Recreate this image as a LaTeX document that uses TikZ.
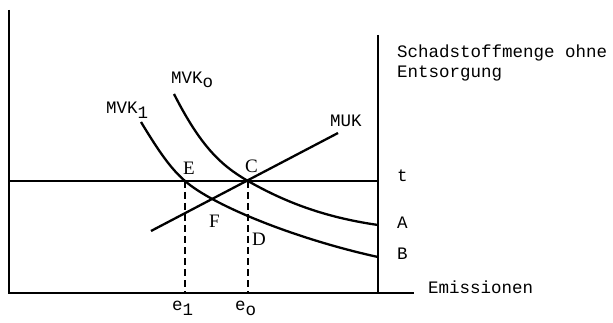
\documentclass[tikz,border=0pt]{standalone}
\usepackage{fontspec}
\setmainfont{Liberation Serif}
\newfontfamily\typew{Liberation Mono}
\usetikzlibrary{positioning}

\begin{document}
\begin{tikzpicture}[
    x=1pt, y=-1pt,
    axis/.style={line width=2pt},
    curve/.style={line width=2.3pt},
    level/.style={line width=1.7pt},
    guide/.style={line width=1.7pt, dash pattern=on 7pt off 4pt},
    lab/.style={font=\typew\fontsize{17.5}{20}\selectfont, inner sep=0pt, anchor=base west},
    pt/.style={font=\fontsize{19}{22}\selectfont, inner sep=0pt, anchor=base west}
]
\useasboundingbox (0,0) rectangle (613,323);

% points of the diagram
\coordinate (top) at (9,10);
\coordinate (origin) at (9,293);
\coordinate (xend) at (414,293);
\coordinate (rtop) at (378,35);
\coordinate (rbot) at (378,293);
\coordinate (tleft) at (9,181);
\coordinate (tright) at (378,181);
\coordinate (C) at (248,181);
\coordinate (E) at (185,181);
\coordinate (e1foot) at (185,293);
\coordinate (e0foot) at (248,293);
\coordinate (A) at (378,225);
\coordinate (B) at (378,257);
\coordinate (mvk0start) at (174,94);
\coordinate (mvk1start) at (141,122);
\coordinate (mukstart) at (151,231);
\coordinate (mukend) at (338,133);

% axes
\draw [axis] (top) -- (origin) -- (xend);
\draw [axis] (rtop) -- (rbot);
\draw [level] (tleft) -- (tright);

% curves
\draw [curve] (mvk0start) .. controls (200,145) and (220,165) .. (C)
    .. controls (290,205) and (330,218) .. (A);
\draw [curve] (mvk1start) .. controls (158,150) and (170,168) .. (E)
    .. controls (215,207) and (300,240) .. (B);
\draw [curve] (mukstart) -- (mukend);

% dashed guides
\draw [guide] (E) -- (e1foot);
\draw [guide] (C) -- (e0foot);

% labels
\node (mvk0lab) [lab] at (171,84) {MVK\raisebox{-4pt}{o}};
\node (mvk1lab) [lab] at (106,114) {MVK\raisebox{-5pt}{1}};
\node (muklab) [lab] at (330,127) {MUK};
\node (schad) [lab] at (397,58) {Schadstoffmenge ohne};
\node (entsorg) [lab] at (397,78) {Entsorgung};
\node (tlab) [lab] at (397,182) {t};
\node (Alab) [lab] at (397,229) {A};
\node (Blab) [lab] at (397,259) {B};
\node (emis) [lab] at (428,293) {Emissionen};
\node (e1lab) [lab] at (172,310) {e\raisebox{-5pt}{1}};
\node (e0lab) [lab] at (235,310) {e\raisebox{-5pt}{o}};
\node (Elab) [pt] at (183,175) {E};
\node (Clab) [pt] at (245,173) {C};
\node (Flab) [pt] at (209,227) {F};
\node (Dlab) [pt] at (252,246) {D};
\end{tikzpicture}
\end{document}
